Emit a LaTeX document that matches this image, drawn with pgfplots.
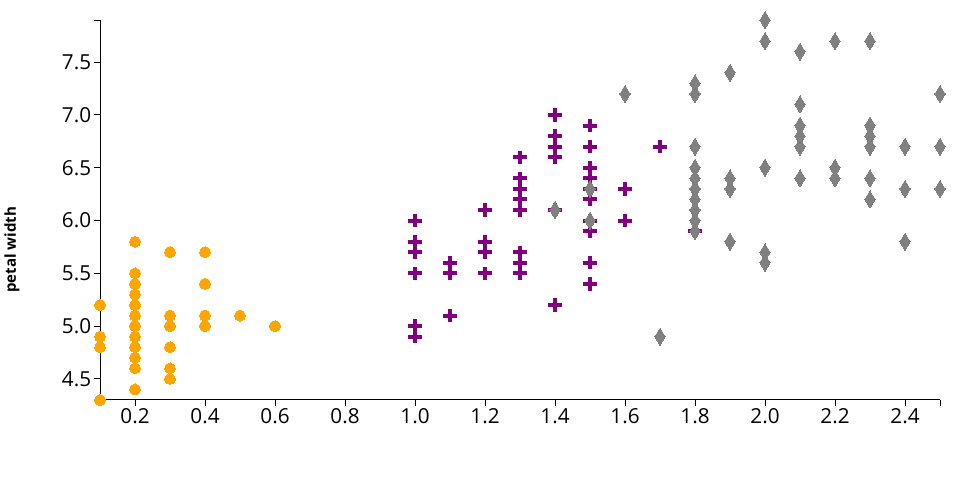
\documentclass[border=0pt]{standalone}
\usepackage{fontspec}
\setmainfont{Open Sans}
\usepackage{pgfplots}
\pgfplotsset{compat=1.18}
\definecolor{cOr}{HTML}{FFA500}
\definecolor{cPu}{HTML}{800080}
\definecolor{cGr}{HTML}{808080}
\begin{document}
\begin{tikzpicture}
\begin{axis}[
  name=ax,
  scale only axis,
  width=630pt, height=285pt,
  xmin=0.1, xmax=2.5, ymin=4.3, ymax=7.9,
  axis x line*=bottom, axis y line*=left,
  axis line style={line width=0.75pt,-},
  xtick={0.2,0.4,...,2.41},
  ytick={4.5,5.0,...,7.51},
  extra x ticks={0.1,2.5}, extra x tick labels={},
  extra y ticks={4.3,7.9}, extra y tick labels={},
  tick align=outside,
  major tick length=4.5pt,
  tick style={line width=0.75pt, black},
  /pgf/number format/assume math mode=true,
  /pgf/number format/.cd, fixed, fixed zerofill, precision=1, /pgfplots/.cd,
  ticklabel style={font=\fontsize{15.5}{17}\selectfont},
  xticklabel style={inner sep=2pt},
  yticklabel style={inner sep=2pt},
  ylabel={petal width},
  ylabel style={font=\bfseries\fontsize{11.3}{13}\selectfont, at={(rel axis cs:-0.1048,0.395)}, anchor=center},
  clip=false,
]
% setosa
\addplot[only marks, color=cOr, mark=*, mark size=4.1pt, mark options={draw=cOr, fill=cOr, line width=0pt}] coordinates {
(0.2,5.1)(0.2,4.9)(0.2,4.7)(0.2,4.6)(0.2,5.0)(0.4,5.4)(0.3,4.6)(0.2,5.0)(0.2,4.4)(0.1,4.9)
(0.2,5.4)(0.2,4.8)(0.1,4.8)(0.1,4.3)(0.2,5.8)(0.4,5.7)(0.4,5.4)(0.3,5.1)(0.3,5.7)(0.3,5.1)
(0.2,5.4)(0.4,5.1)(0.2,4.6)(0.5,5.1)(0.2,4.8)(0.2,5.0)(0.4,5.0)(0.2,5.2)(0.2,5.2)(0.2,4.7)
(0.2,4.8)(0.4,5.4)(0.1,5.2)(0.2,5.5)(0.1,4.9)(0.2,5.0)(0.2,5.5)(0.1,4.9)(0.2,4.4)(0.2,5.1)
(0.3,5.0)(0.3,4.5)(0.2,4.4)(0.6,5.0)(0.4,5.1)(0.3,4.8)(0.2,5.1)(0.2,4.6)(0.2,5.3)(0.2,5.0)
};
% versicolor
\addplot[only marks, color=cPu, mark=+, mark size=5pt, mark options={draw=cPu, line width=3pt}] coordinates {
(1.4,7.0)(1.5,6.4)(1.5,6.9)(1.3,5.5)(1.5,6.5)(1.3,5.7)(1.6,6.3)(1.0,4.9)(1.3,6.6)(1.4,5.2)
(1.0,5.0)(1.5,5.9)(1.0,6.0)(1.4,6.1)(1.3,5.6)(1.4,6.7)(1.5,5.6)(1.0,5.8)(1.5,6.2)(1.1,5.6)
(1.8,5.9)(1.3,6.1)(1.5,6.3)(1.2,6.1)(1.3,6.4)(1.4,6.6)(1.4,6.8)(1.7,6.7)(1.5,6.0)(1.0,5.7)
(1.1,5.5)(1.0,5.5)(1.2,5.8)(1.6,6.0)(1.5,5.4)(1.6,6.0)(1.5,6.7)(1.3,6.3)(1.3,5.6)(1.3,5.5)
(1.2,5.5)(1.4,6.1)(1.2,5.8)(1.0,5.0)(1.3,5.6)(1.2,5.7)(1.3,5.7)(1.3,6.2)(1.1,5.1)(1.3,5.7)
};
% virginica
\addplot[only marks, color=cGr, mark=diamond*, mark size=6.4pt, mark options={draw=cGr, fill=cGr, line width=0pt, xscale=0.8}] coordinates {
(2.5,6.3)(1.9,5.8)(2.1,7.1)(1.8,6.3)(2.2,6.5)(2.1,7.6)(1.7,4.9)(1.8,7.3)(1.8,6.7)(2.5,7.2)
(2.0,6.5)(1.9,6.4)(2.1,6.8)(2.0,5.7)(2.4,5.8)(2.3,6.4)(1.8,6.5)(2.2,7.7)(2.3,7.7)(1.5,6.0)
(2.3,6.9)(2.0,5.6)(2.0,7.7)(1.8,6.3)(2.1,6.7)(1.8,7.2)(1.8,6.2)(1.8,6.1)(2.1,6.4)(1.6,7.2)
(1.9,7.4)(2.0,7.9)(2.2,6.4)(1.5,6.3)(1.4,6.1)(2.3,7.7)(2.4,6.3)(1.8,6.4)(1.8,6.0)(2.1,6.9)
(2.4,6.7)(2.3,6.9)(1.9,5.8)(2.3,6.8)(2.5,6.7)(2.3,6.7)(1.9,6.3)(2.0,6.5)(2.3,6.2)(1.8,5.9)
};
\end{axis}
\path[use as bounding box] ([shift={(-75pt,-75pt)}]ax.south west) rectangle ([shift={(15pt,15pt)}]ax.north east);
\end{tikzpicture}
\end{document}
